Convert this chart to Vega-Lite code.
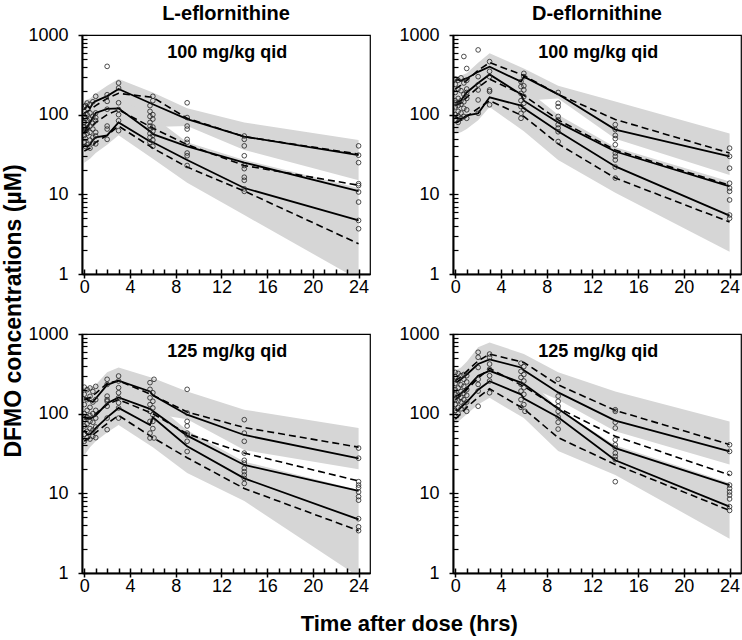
{
"$schema": "https://vega.github.io/schema/vega-lite/v6.json",
"padding": {"left": 2, "right": 0, "top": 4, "bottom": 2},
"config": {"font": "Liberation Sans", "view": {"stroke": "black", "strokeWidth": 1.2}},
"title": {"text": "Time after dose (hrs)", "orient": "bottom", "anchor": "middle", "dx": 37, "offset": 18, "fontSize": 22, "fontWeight": "bold", "font": "Liberation Sans", "color": "black"},
"data": {"values": [
{"drug":"L","dose":100,"kind":"band","series":"upper","time":0,"lo":60,"hi":150},
{"drug":"L","dose":100,"kind":"band","series":"upper","time":0.5,"lo":70,"hi":160},
{"drug":"L","dose":100,"kind":"band","series":"upper","time":1,"lo":80,"hi":185},
{"drug":"L","dose":100,"kind":"band","series":"upper","time":2,"lo":95,"hi":230},
{"drug":"L","dose":100,"kind":"band","series":"upper","time":3,"lo":110,"hi":280},
{"drug":"L","dose":100,"kind":"band","series":"upper","time":6,"lo":70,"hi":190},
{"drug":"L","dose":100,"kind":"band","series":"upper","time":9,"lo":72,"hi":120},
{"drug":"L","dose":100,"kind":"band","series":"upper","time":14,"lo":36,"hi":80},
{"drug":"L","dose":100,"kind":"band","series":"upper","time":24,"lo":15,"hi":48},
{"drug":"L","dose":100,"kind":"band","series":"lower","time":0,"lo":25,"hi":90},
{"drug":"L","dose":100,"kind":"band","series":"lower","time":0.5,"lo":28,"hi":100},
{"drug":"L","dose":100,"kind":"band","series":"lower","time":1,"lo":33,"hi":115},
{"drug":"L","dose":100,"kind":"band","series":"lower","time":2,"lo":42,"hi":140},
{"drug":"L","dose":100,"kind":"band","series":"lower","time":3,"lo":55,"hi":160},
{"drug":"L","dose":100,"kind":"band","series":"lower","time":6,"lo":28,"hi":95},
{"drug":"L","dose":100,"kind":"band","series":"lower","time":9,"lo":14,"hi":45},
{"drug":"L","dose":100,"kind":"band","series":"lower","time":14,"lo":5.5,"hi":27},
{"drug":"L","dose":100,"kind":"band","series":"lower","time":24,"lo":0.85,"hi":12},
{"drug":"D","dose":100,"kind":"band","series":"upper","time":0,"lo":120,"hi":300},
{"drug":"D","dose":100,"kind":"band","series":"upper","time":0.5,"lo":130,"hi":310},
{"drug":"D","dose":100,"kind":"band","series":"upper","time":1,"lo":140,"hi":330},
{"drug":"D","dose":100,"kind":"band","series":"upper","time":2,"lo":180,"hi":450},
{"drug":"D","dose":100,"kind":"band","series":"upper","time":3,"lo":240,"hi":590},
{"drug":"D","dose":100,"kind":"band","series":"upper","time":6,"lo":150,"hi":380},
{"drug":"D","dose":100,"kind":"band","series":"upper","time":9,"lo":160,"hi":230},
{"drug":"D","dose":100,"kind":"band","series":"upper","time":14,"lo":50,"hi":146},
{"drug":"D","dose":100,"kind":"band","series":"upper","time":24,"lo":17.5,"hi":58},
{"drug":"D","dose":100,"kind":"band","series":"lower","time":0,"lo":58,"hi":180},
{"drug":"D","dose":100,"kind":"band","series":"lower","time":0.5,"lo":60,"hi":190},
{"drug":"D","dose":100,"kind":"band","series":"lower","time":1,"lo":66,"hi":200},
{"drug":"D","dose":100,"kind":"band","series":"lower","time":2,"lo":85,"hi":260},
{"drug":"D","dose":100,"kind":"band","series":"lower","time":3,"lo":125,"hi":330},
{"drug":"D","dose":100,"kind":"band","series":"lower","time":6,"lo":62,"hi":220},
{"drug":"D","dose":100,"kind":"band","series":"lower","time":9,"lo":27,"hi":100},
{"drug":"D","dose":100,"kind":"band","series":"lower","time":14,"lo":10.5,"hi":39},
{"drug":"D","dose":100,"kind":"band","series":"lower","time":24,"lo":1.9,"hi":14.5},
{"drug":"L","dose":125,"kind":"band","series":"upper","time":0,"lo":80,"hi":220},
{"drug":"L","dose":125,"kind":"band","series":"upper","time":0.5,"lo":85,"hi":215},
{"drug":"L","dose":125,"kind":"band","series":"upper","time":1,"lo":95,"hi":230},
{"drug":"L","dose":125,"kind":"band","series":"upper","time":2,"lo":120,"hi":330},
{"drug":"L","dose":125,"kind":"band","series":"upper","time":3,"lo":140,"hi":380},
{"drug":"L","dose":125,"kind":"band","series":"upper","time":6,"lo":100,"hi":280},
{"drug":"L","dose":125,"kind":"band","series":"upper","time":9,"lo":85,"hi":190},
{"drug":"L","dose":125,"kind":"band","series":"upper","time":14,"lo":35,"hi":112},
{"drug":"L","dose":125,"kind":"band","series":"upper","time":24,"lo":20,"hi":66},
{"drug":"L","dose":125,"kind":"band","series":"lower","time":0,"lo":30,"hi":120},
{"drug":"L","dose":125,"kind":"band","series":"lower","time":0.5,"lo":38,"hi":125},
{"drug":"L","dose":125,"kind":"band","series":"lower","time":1,"lo":45,"hi":135},
{"drug":"L","dose":125,"kind":"band","series":"lower","time":2,"lo":58,"hi":170},
{"drug":"L","dose":125,"kind":"band","series":"lower","time":3,"lo":72,"hi":200},
{"drug":"L","dose":125,"kind":"band","series":"lower","time":6,"lo":38,"hi":140},
{"drug":"L","dose":125,"kind":"band","series":"lower","time":9,"lo":18,"hi":62},
{"drug":"L","dose":125,"kind":"band","series":"lower","time":14,"lo":8,"hi":25},
{"drug":"L","dose":125,"kind":"band","series":"lower","time":24,"lo":0.9,"hi":11},
{"drug":"D","dose":125,"kind":"band","series":"upper","time":0,"lo":150,"hi":350},
{"drug":"D","dose":125,"kind":"band","series":"upper","time":0.5,"lo":165,"hi":380},
{"drug":"D","dose":125,"kind":"band","series":"upper","time":1,"lo":190,"hi":450},
{"drug":"D","dose":125,"kind":"band","series":"upper","time":2,"lo":270,"hi":680},
{"drug":"D","dose":125,"kind":"band","series":"upper","time":3,"lo":330,"hi":785},
{"drug":"D","dose":125,"kind":"band","series":"upper","time":6,"lo":230,"hi":560},
{"drug":"D","dose":125,"kind":"band","series":"upper","time":9,"lo":150,"hi":330},
{"drug":"D","dose":125,"kind":"band","series":"upper","time":14,"lo":60,"hi":190},
{"drug":"D","dose":125,"kind":"band","series":"upper","time":24,"lo":23,"hi":80},
{"drug":"D","dose":125,"kind":"band","series":"lower","time":0,"lo":73,"hi":220},
{"drug":"D","dose":125,"kind":"band","series":"lower","time":0.5,"lo":85,"hi":240},
{"drug":"D","dose":125,"kind":"band","series":"lower","time":1,"lo":98,"hi":270},
{"drug":"D","dose":125,"kind":"band","series":"lower","time":2,"lo":130,"hi":380},
{"drug":"D","dose":125,"kind":"band","series":"lower","time":3,"lo":158,"hi":450},
{"drug":"D","dose":125,"kind":"band","series":"lower","time":6,"lo":88,"hi":320},
{"drug":"D","dose":125,"kind":"band","series":"lower","time":9,"lo":34,"hi":115},
{"drug":"D","dose":125,"kind":"band","series":"lower","time":14,"lo":17,"hi":40},
{"drug":"D","dose":125,"kind":"band","series":"lower","time":24,"lo":2.7,"hi":13.5},

{"drug":"L","dose":100,"kind":"obsline","series":"p95","time":0,"conc":115},
{"drug":"L","dose":100,"kind":"obsline","series":"p95","time":0.25,"conc":130},
{"drug":"L","dose":100,"kind":"obsline","series":"p95","time":0.5,"conc":120},
{"drug":"L","dose":100,"kind":"obsline","series":"p95","time":0.75,"conc":140},
{"drug":"L","dose":100,"kind":"obsline","series":"p95","time":1,"conc":148},
{"drug":"L","dose":100,"kind":"obsline","series":"p95","time":2,"conc":171},
{"drug":"L","dose":100,"kind":"obsline","series":"p95","time":3,"conc":210},
{"drug":"L","dose":100,"kind":"obsline","series":"p95","time":5.75,"conc":140},
{"drug":"L","dose":100,"kind":"obsline","series":"p95","time":6,"conc":135},
{"drug":"L","dose":100,"kind":"obsline","series":"p95","time":9,"conc":88},
{"drug":"L","dose":100,"kind":"obsline","series":"p95","time":14,"conc":53},
{"drug":"L","dose":100,"kind":"obsline","series":"p95","time":24,"conc":31},
{"drug":"L","dose":100,"kind":"obsline","series":"p50","time":0,"conc":60},
{"drug":"L","dose":100,"kind":"obsline","series":"p50","time":0.25,"conc":70},
{"drug":"L","dose":100,"kind":"obsline","series":"p50","time":0.5,"conc":80},
{"drug":"L","dose":100,"kind":"obsline","series":"p50","time":0.75,"conc":92},
{"drug":"L","dose":100,"kind":"obsline","series":"p50","time":1,"conc":105},
{"drug":"L","dose":100,"kind":"obsline","series":"p50","time":2,"conc":118},
{"drug":"L","dose":100,"kind":"obsline","series":"p50","time":3,"conc":120},
{"drug":"L","dose":100,"kind":"obsline","series":"p50","time":5.75,"conc":62},
{"drug":"L","dose":100,"kind":"obsline","series":"p50","time":6,"conc":57},
{"drug":"L","dose":100,"kind":"obsline","series":"p50","time":9,"conc":40},
{"drug":"L","dose":100,"kind":"obsline","series":"p50","time":14,"conc":25},
{"drug":"L","dose":100,"kind":"obsline","series":"p50","time":24,"conc":11},
{"drug":"L","dose":100,"kind":"obsline","series":"p5","time":0,"conc":41},
{"drug":"L","dose":100,"kind":"obsline","series":"p5","time":0.25,"conc":40},
{"drug":"L","dose":100,"kind":"obsline","series":"p5","time":0.5,"conc":42},
{"drug":"L","dose":100,"kind":"obsline","series":"p5","time":0.75,"conc":48},
{"drug":"L","dose":100,"kind":"obsline","series":"p5","time":1,"conc":52},
{"drug":"L","dose":100,"kind":"obsline","series":"p5","time":2,"conc":55},
{"drug":"L","dose":100,"kind":"obsline","series":"p5","time":3,"conc":80},
{"drug":"L","dose":100,"kind":"obsline","series":"p5","time":5.75,"conc":46},
{"drug":"L","dose":100,"kind":"obsline","series":"p5","time":6,"conc":45},
{"drug":"L","dose":100,"kind":"obsline","series":"p5","time":9,"conc":27},
{"drug":"L","dose":100,"kind":"obsline","series":"p5","time":14,"conc":12},
{"drug":"L","dose":100,"kind":"obsline","series":"p5","time":24,"conc":4.7},
{"drug":"L","dose":100,"kind":"predline","series":"p95","time":0,"conc":105},
{"drug":"L","dose":100,"kind":"predline","series":"p95","time":0.5,"conc":115},
{"drug":"L","dose":100,"kind":"predline","series":"p95","time":1,"conc":130},
{"drug":"L","dose":100,"kind":"predline","series":"p95","time":2,"conc":160},
{"drug":"L","dose":100,"kind":"predline","series":"p95","time":3,"conc":185},
{"drug":"L","dose":100,"kind":"predline","series":"p95","time":6,"conc":165},
{"drug":"L","dose":100,"kind":"predline","series":"p95","time":9,"conc":90},
{"drug":"L","dose":100,"kind":"predline","series":"p95","time":14,"conc":53},
{"drug":"L","dose":100,"kind":"predline","series":"p95","time":24,"conc":32},
{"drug":"L","dose":100,"kind":"predline","series":"p50","time":0,"conc":60},
{"drug":"L","dose":100,"kind":"predline","series":"p50","time":0.5,"conc":68},
{"drug":"L","dose":100,"kind":"predline","series":"p50","time":1,"conc":80},
{"drug":"L","dose":100,"kind":"predline","series":"p50","time":2,"conc":100},
{"drug":"L","dose":100,"kind":"predline","series":"p50","time":3,"conc":115},
{"drug":"L","dose":100,"kind":"predline","series":"p50","time":6,"conc":68},
{"drug":"L","dose":100,"kind":"predline","series":"p50","time":9,"conc":42},
{"drug":"L","dose":100,"kind":"predline","series":"p50","time":14,"conc":23},
{"drug":"L","dose":100,"kind":"predline","series":"p50","time":24,"conc":13},
{"drug":"L","dose":100,"kind":"predline","series":"p5","time":0,"conc":35},
{"drug":"L","dose":100,"kind":"predline","series":"p5","time":0.5,"conc":38},
{"drug":"L","dose":100,"kind":"predline","series":"p5","time":1,"conc":45},
{"drug":"L","dose":100,"kind":"predline","series":"p5","time":2,"conc":55},
{"drug":"L","dose":100,"kind":"predline","series":"p5","time":3,"conc":72},
{"drug":"L","dose":100,"kind":"predline","series":"p5","time":6,"conc":38},
{"drug":"L","dose":100,"kind":"predline","series":"p5","time":9,"conc":22},
{"drug":"L","dose":100,"kind":"predline","series":"p5","time":14,"conc":11},
{"drug":"L","dose":100,"kind":"predline","series":"p5","time":24,"conc":2.4},

{"drug":"D","dose":100,"kind":"obsline","series":"p95","time":0,"conc":270},
{"drug":"D","dose":100,"kind":"obsline","series":"p95","time":0.25,"conc":275},
{"drug":"D","dose":100,"kind":"obsline","series":"p95","time":0.5,"conc":265},
{"drug":"D","dose":100,"kind":"obsline","series":"p95","time":0.75,"conc":280},
{"drug":"D","dose":100,"kind":"obsline","series":"p95","time":1,"conc":285},
{"drug":"D","dose":100,"kind":"obsline","series":"p95","time":2,"conc":345},
{"drug":"D","dose":100,"kind":"obsline","series":"p95","time":3,"conc":400},
{"drug":"D","dose":100,"kind":"obsline","series":"p95","time":5.75,"conc":260},
{"drug":"D","dose":100,"kind":"obsline","series":"p95","time":6,"conc":300},
{"drug":"D","dose":100,"kind":"obsline","series":"p95","time":9,"conc":180},
{"drug":"D","dose":100,"kind":"obsline","series":"p95","time":14,"conc":65},
{"drug":"D","dose":100,"kind":"obsline","series":"p95","time":24,"conc":30},
{"drug":"D","dose":100,"kind":"obsline","series":"p50","time":0,"conc":140},
{"drug":"D","dose":100,"kind":"obsline","series":"p50","time":0.25,"conc":145},
{"drug":"D","dose":100,"kind":"obsline","series":"p50","time":0.5,"conc":150},
{"drug":"D","dose":100,"kind":"obsline","series":"p50","time":0.75,"conc":170},
{"drug":"D","dose":100,"kind":"obsline","series":"p50","time":1,"conc":190},
{"drug":"D","dose":100,"kind":"obsline","series":"p50","time":2,"conc":250},
{"drug":"D","dose":100,"kind":"obsline","series":"p50","time":3,"conc":320},
{"drug":"D","dose":100,"kind":"obsline","series":"p50","time":5.75,"conc":180},
{"drug":"D","dose":100,"kind":"obsline","series":"p50","time":6,"conc":150},
{"drug":"D","dose":100,"kind":"obsline","series":"p50","time":9,"conc":80},
{"drug":"D","dose":100,"kind":"obsline","series":"p50","time":14,"conc":34.5},
{"drug":"D","dose":100,"kind":"obsline","series":"p50","time":24,"conc":12.6},
{"drug":"D","dose":100,"kind":"obsline","series":"p5","time":0,"conc":95},
{"drug":"D","dose":100,"kind":"obsline","series":"p5","time":0.25,"conc":90},
{"drug":"D","dose":100,"kind":"obsline","series":"p5","time":0.5,"conc":88},
{"drug":"D","dose":100,"kind":"obsline","series":"p5","time":0.75,"conc":92},
{"drug":"D","dose":100,"kind":"obsline","series":"p5","time":1,"conc":98},
{"drug":"D","dose":100,"kind":"obsline","series":"p5","time":2,"conc":104},
{"drug":"D","dose":100,"kind":"obsline","series":"p5","time":3,"conc":165},
{"drug":"D","dose":100,"kind":"obsline","series":"p5","time":5.75,"conc":130},
{"drug":"D","dose":100,"kind":"obsline","series":"p5","time":6,"conc":120},
{"drug":"D","dose":100,"kind":"obsline","series":"p5","time":9,"conc":62},
{"drug":"D","dose":100,"kind":"obsline","series":"p5","time":14,"conc":22.4},
{"drug":"D","dose":100,"kind":"obsline","series":"p5","time":24,"conc":5.4},
{"drug":"D","dose":100,"kind":"predline","series":"p95","time":0,"conc":210},
{"drug":"D","dose":100,"kind":"predline","series":"p95","time":0.5,"conc":235},
{"drug":"D","dose":100,"kind":"predline","series":"p95","time":1,"conc":270},
{"drug":"D","dose":100,"kind":"predline","series":"p95","time":2,"conc":360},
{"drug":"D","dose":100,"kind":"predline","series":"p95","time":3,"conc":450},
{"drug":"D","dose":100,"kind":"predline","series":"p95","time":6,"conc":310},
{"drug":"D","dose":100,"kind":"predline","series":"p95","time":9,"conc":180},
{"drug":"D","dose":100,"kind":"predline","series":"p95","time":14,"conc":87},
{"drug":"D","dose":100,"kind":"predline","series":"p95","time":24,"conc":33},
{"drug":"D","dose":100,"kind":"predline","series":"p50","time":0,"conc":130},
{"drug":"D","dose":100,"kind":"predline","series":"p50","time":0.5,"conc":140},
{"drug":"D","dose":100,"kind":"predline","series":"p50","time":1,"conc":165},
{"drug":"D","dose":100,"kind":"predline","series":"p50","time":2,"conc":220},
{"drug":"D","dose":100,"kind":"predline","series":"p50","time":3,"conc":280},
{"drug":"D","dose":100,"kind":"predline","series":"p50","time":6,"conc":175},
{"drug":"D","dose":100,"kind":"predline","series":"p50","time":9,"conc":86},
{"drug":"D","dose":100,"kind":"predline","series":"p50","time":14,"conc":36},
{"drug":"D","dose":100,"kind":"predline","series":"p50","time":24,"conc":13},
{"drug":"D","dose":100,"kind":"predline","series":"p5","time":0,"conc":80},
{"drug":"D","dose":100,"kind":"predline","series":"p5","time":0.5,"conc":85},
{"drug":"D","dose":100,"kind":"predline","series":"p5","time":1,"conc":95},
{"drug":"D","dose":100,"kind":"predline","series":"p5","time":2,"conc":120},
{"drug":"D","dose":100,"kind":"predline","series":"p5","time":3,"conc":150},
{"drug":"D","dose":100,"kind":"predline","series":"p5","time":6,"conc":95},
{"drug":"D","dose":100,"kind":"predline","series":"p5","time":9,"conc":43},
{"drug":"D","dose":100,"kind":"predline","series":"p5","time":14,"conc":16},
{"drug":"D","dose":100,"kind":"predline","series":"p5","time":24,"conc":4.5},

{"drug":"L","dose":125,"kind":"obsline","series":"p95","time":0,"conc":160},
{"drug":"L","dose":125,"kind":"obsline","series":"p95","time":0.25,"conc":150},
{"drug":"L","dose":125,"kind":"obsline","series":"p95","time":0.5,"conc":145},
{"drug":"L","dose":125,"kind":"obsline","series":"p95","time":0.75,"conc":140},
{"drug":"L","dose":125,"kind":"obsline","series":"p95","time":1,"conc":155},
{"drug":"L","dose":125,"kind":"obsline","series":"p95","time":2,"conc":230},
{"drug":"L","dose":125,"kind":"obsline","series":"p95","time":3,"conc":260},
{"drug":"L","dose":125,"kind":"obsline","series":"p95","time":5.75,"conc":190},
{"drug":"L","dose":125,"kind":"obsline","series":"p95","time":6,"conc":170},
{"drug":"L","dose":125,"kind":"obsline","series":"p95","time":9,"conc":97},
{"drug":"L","dose":125,"kind":"obsline","series":"p95","time":14,"conc":54},
{"drug":"L","dose":125,"kind":"obsline","series":"p95","time":24,"conc":27.5},
{"drug":"L","dose":125,"kind":"obsline","series":"p50","time":0,"conc":92},
{"drug":"L","dose":125,"kind":"obsline","series":"p50","time":0.25,"conc":88},
{"drug":"L","dose":125,"kind":"obsline","series":"p50","time":0.5,"conc":86},
{"drug":"L","dose":125,"kind":"obsline","series":"p50","time":0.75,"conc":90},
{"drug":"L","dose":125,"kind":"obsline","series":"p50","time":1,"conc":95},
{"drug":"L","dose":125,"kind":"obsline","series":"p50","time":2,"conc":135},
{"drug":"L","dose":125,"kind":"obsline","series":"p50","time":3,"conc":160},
{"drug":"L","dose":125,"kind":"obsline","series":"p50","time":5.75,"conc":115},
{"drug":"L","dose":125,"kind":"obsline","series":"p50","time":6,"conc":108},
{"drug":"L","dose":125,"kind":"obsline","series":"p50","time":9,"conc":53},
{"drug":"L","dose":125,"kind":"obsline","series":"p50","time":14,"conc":22.7},
{"drug":"L","dose":125,"kind":"obsline","series":"p50","time":24,"conc":10.7},
{"drug":"L","dose":125,"kind":"obsline","series":"p5","time":0,"conc":62},
{"drug":"L","dose":125,"kind":"obsline","series":"p5","time":0.25,"conc":55},
{"drug":"L","dose":125,"kind":"obsline","series":"p5","time":0.5,"conc":55},
{"drug":"L","dose":125,"kind":"obsline","series":"p5","time":0.75,"conc":60},
{"drug":"L","dose":125,"kind":"obsline","series":"p5","time":1,"conc":66},
{"drug":"L","dose":125,"kind":"obsline","series":"p5","time":2,"conc":90},
{"drug":"L","dose":125,"kind":"obsline","series":"p5","time":3,"conc":118},
{"drug":"L","dose":125,"kind":"obsline","series":"p5","time":5.75,"conc":72},
{"drug":"L","dose":125,"kind":"obsline","series":"p5","time":6,"conc":90},
{"drug":"L","dose":125,"kind":"obsline","series":"p5","time":9,"conc":39},
{"drug":"L","dose":125,"kind":"obsline","series":"p5","time":14,"conc":15.4},
{"drug":"L","dose":125,"kind":"obsline","series":"p5","time":24,"conc":4.7},
{"drug":"L","dose":125,"kind":"predline","series":"p95","time":0,"conc":150},
{"drug":"L","dose":125,"kind":"predline","series":"p95","time":0.5,"conc":160},
{"drug":"L","dose":125,"kind":"predline","series":"p95","time":1,"conc":180},
{"drug":"L","dose":125,"kind":"predline","series":"p95","time":2,"conc":240},
{"drug":"L","dose":125,"kind":"predline","series":"p95","time":3,"conc":260},
{"drug":"L","dose":125,"kind":"predline","series":"p95","time":6,"conc":170},
{"drug":"L","dose":125,"kind":"predline","series":"p95","time":9,"conc":105},
{"drug":"L","dose":125,"kind":"predline","series":"p95","time":14,"conc":67},
{"drug":"L","dose":125,"kind":"predline","series":"p95","time":24,"conc":38},
{"drug":"L","dose":125,"kind":"predline","series":"p50","time":0,"conc":85},
{"drug":"L","dose":125,"kind":"predline","series":"p50","time":0.5,"conc":90},
{"drug":"L","dose":125,"kind":"predline","series":"p50","time":1,"conc":100},
{"drug":"L","dose":125,"kind":"predline","series":"p50","time":2,"conc":130},
{"drug":"L","dose":125,"kind":"predline","series":"p50","time":3,"conc":150},
{"drug":"L","dose":125,"kind":"predline","series":"p50","time":6,"conc":100},
{"drug":"L","dose":125,"kind":"predline","series":"p50","time":9,"conc":56},
{"drug":"L","dose":125,"kind":"predline","series":"p50","time":14,"conc":32},
{"drug":"L","dose":125,"kind":"predline","series":"p50","time":24,"conc":14.3},
{"drug":"L","dose":125,"kind":"predline","series":"p5","time":0,"conc":45},
{"drug":"L","dose":125,"kind":"predline","series":"p5","time":0.5,"conc":50},
{"drug":"L","dose":125,"kind":"predline","series":"p5","time":1,"conc":58},
{"drug":"L","dose":125,"kind":"predline","series":"p5","time":2,"conc":75},
{"drug":"L","dose":125,"kind":"predline","series":"p5","time":3,"conc":95},
{"drug":"L","dose":125,"kind":"predline","series":"p5","time":6,"conc":50},
{"drug":"L","dose":125,"kind":"predline","series":"p5","time":9,"conc":28},
{"drug":"L","dose":125,"kind":"predline","series":"p5","time":14,"conc":11.5},
{"drug":"L","dose":125,"kind":"predline","series":"p5","time":24,"conc":3.4},

{"drug":"D","dose":125,"kind":"obsline","series":"p95","time":0,"conc":250},
{"drug":"D","dose":125,"kind":"obsline","series":"p95","time":0.25,"conc":255},
{"drug":"D","dose":125,"kind":"obsline","series":"p95","time":0.5,"conc":270},
{"drug":"D","dose":125,"kind":"obsline","series":"p95","time":0.75,"conc":290},
{"drug":"D","dose":125,"kind":"obsline","series":"p95","time":1,"conc":310},
{"drug":"D","dose":125,"kind":"obsline","series":"p95","time":2,"conc":420},
{"drug":"D","dose":125,"kind":"obsline","series":"p95","time":3,"conc":480},
{"drug":"D","dose":125,"kind":"obsline","series":"p95","time":5.75,"conc":380},
{"drug":"D","dose":125,"kind":"obsline","series":"p95","time":6,"conc":350},
{"drug":"D","dose":125,"kind":"obsline","series":"p95","time":9,"conc":185},
{"drug":"D","dose":125,"kind":"obsline","series":"p95","time":14,"conc":82},
{"drug":"D","dose":125,"kind":"obsline","series":"p95","time":24,"conc":33.6},
{"drug":"D","dose":125,"kind":"obsline","series":"p50","time":0,"conc":165},
{"drug":"D","dose":125,"kind":"obsline","series":"p50","time":0.25,"conc":170},
{"drug":"D","dose":125,"kind":"obsline","series":"p50","time":0.5,"conc":180},
{"drug":"D","dose":125,"kind":"obsline","series":"p50","time":0.75,"conc":195},
{"drug":"D","dose":125,"kind":"obsline","series":"p50","time":1,"conc":210},
{"drug":"D","dose":125,"kind":"obsline","series":"p50","time":2,"conc":300},
{"drug":"D","dose":125,"kind":"obsline","series":"p50","time":3,"conc":345},
{"drug":"D","dose":125,"kind":"obsline","series":"p50","time":5.75,"conc":245},
{"drug":"D","dose":125,"kind":"obsline","series":"p50","time":6,"conc":235},
{"drug":"D","dose":125,"kind":"obsline","series":"p50","time":9,"conc":115},
{"drug":"D","dose":125,"kind":"obsline","series":"p50","time":14,"conc":37},
{"drug":"D","dose":125,"kind":"obsline","series":"p50","time":24,"conc":12.7},
{"drug":"D","dose":125,"kind":"obsline","series":"p5","time":0,"conc":112},
{"drug":"D","dose":125,"kind":"obsline","series":"p5","time":0.25,"conc":110},
{"drug":"D","dose":125,"kind":"obsline","series":"p5","time":0.5,"conc":120},
{"drug":"D","dose":125,"kind":"obsline","series":"p5","time":0.75,"conc":130},
{"drug":"D","dose":125,"kind":"obsline","series":"p5","time":1,"conc":140},
{"drug":"D","dose":125,"kind":"obsline","series":"p5","time":2,"conc":200},
{"drug":"D","dose":125,"kind":"obsline","series":"p5","time":3,"conc":255},
{"drug":"D","dose":125,"kind":"obsline","series":"p5","time":5.75,"conc":175},
{"drug":"D","dose":125,"kind":"obsline","series":"p5","time":6,"conc":155},
{"drug":"D","dose":125,"kind":"obsline","series":"p5","time":9,"conc":90},
{"drug":"D","dose":125,"kind":"obsline","series":"p5","time":14,"conc":26},
{"drug":"D","dose":125,"kind":"obsline","series":"p5","time":24,"conc":6.8},
{"drug":"D","dose":125,"kind":"predline","series":"p95","time":0,"conc":260},
{"drug":"D","dose":125,"kind":"predline","series":"p95","time":0.5,"conc":290},
{"drug":"D","dose":125,"kind":"predline","series":"p95","time":1,"conc":340},
{"drug":"D","dose":125,"kind":"predline","series":"p95","time":2,"conc":460},
{"drug":"D","dose":125,"kind":"predline","series":"p95","time":3,"conc":560},
{"drug":"D","dose":125,"kind":"predline","series":"p95","time":6,"conc":440},
{"drug":"D","dose":125,"kind":"predline","series":"p95","time":9,"conc":230},
{"drug":"D","dose":125,"kind":"predline","series":"p95","time":14,"conc":110},
{"drug":"D","dose":125,"kind":"predline","series":"p95","time":24,"conc":41},
{"drug":"D","dose":125,"kind":"predline","series":"p50","time":0,"conc":150},
{"drug":"D","dose":125,"kind":"predline","series":"p50","time":0.5,"conc":170},
{"drug":"D","dose":125,"kind":"predline","series":"p50","time":1,"conc":200},
{"drug":"D","dose":125,"kind":"predline","series":"p50","time":2,"conc":280},
{"drug":"D","dose":125,"kind":"predline","series":"p50","time":3,"conc":370},
{"drug":"D","dose":125,"kind":"predline","series":"p50","time":6,"conc":220},
{"drug":"D","dose":125,"kind":"predline","series":"p50","time":9,"conc":118},
{"drug":"D","dose":125,"kind":"predline","series":"p50","time":14,"conc":52},
{"drug":"D","dose":125,"kind":"predline","series":"p50","time":24,"conc":17},
{"drug":"D","dose":125,"kind":"predline","series":"p5","time":0,"conc":85},
{"drug":"D","dose":125,"kind":"predline","series":"p5","time":0.5,"conc":100},
{"drug":"D","dose":125,"kind":"predline","series":"p5","time":1,"conc":120},
{"drug":"D","dose":125,"kind":"predline","series":"p5","time":2,"conc":160},
{"drug":"D","dose":125,"kind":"predline","series":"p5","time":3,"conc":205},
{"drug":"D","dose":125,"kind":"predline","series":"p5","time":6,"conc":115},
{"drug":"D","dose":125,"kind":"predline","series":"p5","time":9,"conc":50},
{"drug":"D","dose":125,"kind":"predline","series":"p5","time":14,"conc":23},
{"drug":"D","dose":125,"kind":"predline","series":"p5","time":24,"conc":6.1},

{"drug":"L","dose":100,"kind":"obs","time":0,"conc":45},{"drug":"L","dose":100,"kind":"obs","time":0,"conc":55},{"drug":"L","dose":100,"kind":"obs","time":0,"conc":62},{"drug":"L","dose":100,"kind":"obs","time":0,"conc":70},{"drug":"L","dose":100,"kind":"obs","time":0,"conc":80},{"drug":"L","dose":100,"kind":"obs","time":0,"conc":95},{"drug":"L","dose":100,"kind":"obs","time":0,"conc":110},{"drug":"L","dose":100,"kind":"obs","time":0,"conc":125},
{"drug":"L","dose":100,"kind":"obs","time":0.1,"conc":40},{"drug":"L","dose":100,"kind":"obs","time":0.1,"conc":50},{"drug":"L","dose":100,"kind":"obs","time":0.1,"conc":65},{"drug":"L","dose":100,"kind":"obs","time":0.1,"conc":90},{"drug":"L","dose":100,"kind":"obs","time":0.1,"conc":130},
{"drug":"L","dose":100,"kind":"obs","time":0.25,"conc":42},{"drug":"L","dose":100,"kind":"obs","time":0.25,"conc":58},{"drug":"L","dose":100,"kind":"obs","time":0.25,"conc":68},{"drug":"L","dose":100,"kind":"obs","time":0.25,"conc":75},{"drug":"L","dose":100,"kind":"obs","time":0.25,"conc":85},{"drug":"L","dose":100,"kind":"obs","time":0.25,"conc":100},{"drug":"L","dose":100,"kind":"obs","time":0.25,"conc":140},
{"drug":"L","dose":100,"kind":"obs","time":0.5,"conc":38},{"drug":"L","dose":100,"kind":"obs","time":0.5,"conc":48},{"drug":"L","dose":100,"kind":"obs","time":0.5,"conc":60},{"drug":"L","dose":100,"kind":"obs","time":0.5,"conc":72},{"drug":"L","dose":100,"kind":"obs","time":0.5,"conc":88},{"drug":"L","dose":100,"kind":"obs","time":0.5,"conc":105},{"drug":"L","dose":100,"kind":"obs","time":0.5,"conc":135},
{"drug":"L","dose":100,"kind":"obs","time":0.75,"conc":44},{"drug":"L","dose":100,"kind":"obs","time":0.75,"conc":52},{"drug":"L","dose":100,"kind":"obs","time":0.75,"conc":66},{"drug":"L","dose":100,"kind":"obs","time":0.75,"conc":78},{"drug":"L","dose":100,"kind":"obs","time":0.75,"conc":95},{"drug":"L","dose":100,"kind":"obs","time":0.75,"conc":145},
{"drug":"L","dose":100,"kind":"obs","time":1,"conc":43},{"drug":"L","dose":100,"kind":"obs","time":1,"conc":54},{"drug":"L","dose":100,"kind":"obs","time":1,"conc":60},{"drug":"L","dose":100,"kind":"obs","time":1,"conc":84},{"drug":"L","dose":100,"kind":"obs","time":1,"conc":92},{"drug":"L","dose":100,"kind":"obs","time":1,"conc":105},{"drug":"L","dose":100,"kind":"obs","time":1,"conc":170},
{"drug":"L","dose":100,"kind":"obs","time":2,"conc":404},{"drug":"L","dose":100,"kind":"obs","time":2,"conc":178},{"drug":"L","dose":100,"kind":"obs","time":2,"conc":147},{"drug":"L","dose":100,"kind":"obs","time":2,"conc":117},{"drug":"L","dose":100,"kind":"obs","time":2,"conc":72},{"drug":"L","dose":100,"kind":"obs","time":2,"conc":66},{"drug":"L","dose":100,"kind":"obs","time":2,"conc":49},
{"drug":"L","dose":100,"kind":"obs","time":3,"conc":250},{"drug":"L","dose":100,"kind":"obs","time":3,"conc":216},{"drug":"L","dose":100,"kind":"obs","time":3,"conc":141},{"drug":"L","dose":100,"kind":"obs","time":3,"conc":116},{"drug":"L","dose":100,"kind":"obs","time":3,"conc":100},{"drug":"L","dose":100,"kind":"obs","time":3,"conc":84},{"drug":"L","dose":100,"kind":"obs","time":3,"conc":63},
{"drug":"L","dose":100,"kind":"obs","time":5.75,"conc":45},{"drug":"L","dose":100,"kind":"obs","time":5.75,"conc":52},{"drug":"L","dose":100,"kind":"obs","time":5.75,"conc":58},{"drug":"L","dose":100,"kind":"obs","time":5.75,"conc":65},{"drug":"L","dose":100,"kind":"obs","time":5.75,"conc":72},{"drug":"L","dose":100,"kind":"obs","time":5.75,"conc":80},{"drug":"L","dose":100,"kind":"obs","time":5.75,"conc":95},{"drug":"L","dose":100,"kind":"obs","time":5.75,"conc":110},{"drug":"L","dose":100,"kind":"obs","time":5.75,"conc":130},
{"drug":"L","dose":100,"kind":"obs","time":6,"conc":40},{"drug":"L","dose":100,"kind":"obs","time":6,"conc":48},{"drug":"L","dose":100,"kind":"obs","time":6,"conc":55},{"drug":"L","dose":100,"kind":"obs","time":6,"conc":62},{"drug":"L","dose":100,"kind":"obs","time":6,"conc":70},{"drug":"L","dose":100,"kind":"obs","time":6,"conc":88},{"drug":"L","dose":100,"kind":"obs","time":6,"conc":100},{"drug":"L","dose":100,"kind":"obs","time":6,"conc":150},{"drug":"L","dose":100,"kind":"obs","time":6,"conc":170},
{"drug":"L","dose":100,"kind":"obs","time":9,"conc":141},{"drug":"L","dose":100,"kind":"obs","time":9,"conc":92},{"drug":"L","dose":100,"kind":"obs","time":9,"conc":72},{"drug":"L","dose":100,"kind":"obs","time":9,"conc":66},{"drug":"L","dose":100,"kind":"obs","time":9,"conc":49},{"drug":"L","dose":100,"kind":"obs","time":9,"conc":45},{"drug":"L","dose":100,"kind":"obs","time":9,"conc":33},{"drug":"L","dose":100,"kind":"obs","time":9,"conc":30.5},{"drug":"L","dose":100,"kind":"obs","time":9,"conc":23},
{"drug":"L","dose":100,"kind":"obs","time":14,"conc":54},{"drug":"L","dose":100,"kind":"obs","time":14,"conc":49},{"drug":"L","dose":100,"kind":"obs","time":14,"conc":40.6},{"drug":"L","dose":100,"kind":"obs","time":14,"conc":30.5},{"drug":"L","dose":100,"kind":"obs","time":14,"conc":23},{"drug":"L","dose":100,"kind":"obs","time":14,"conc":21},{"drug":"L","dose":100,"kind":"obs","time":14,"conc":16.4},{"drug":"L","dose":100,"kind":"obs","time":14,"conc":15},{"drug":"L","dose":100,"kind":"obs","time":14,"conc":11.7},{"drug":"L","dose":100,"kind":"obs","time":14,"conc":10.9},
{"drug":"L","dose":100,"kind":"obs","time":24,"conc":40.6},{"drug":"L","dose":100,"kind":"obs","time":24,"conc":31},{"drug":"L","dose":100,"kind":"obs","time":24,"conc":25},{"drug":"L","dose":100,"kind":"obs","time":24,"conc":13.6},{"drug":"L","dose":100,"kind":"obs","time":24,"conc":12.9},{"drug":"L","dose":100,"kind":"obs","time":24,"conc":10.7},{"drug":"L","dose":100,"kind":"obs","time":24,"conc":8},{"drug":"L","dose":100,"kind":"obs","time":24,"conc":4.7},{"drug":"L","dose":100,"kind":"obs","time":24,"conc":3.7},

{"drug":"D","dose":100,"kind":"obs","time":0,"conc":85},{"drug":"D","dose":100,"kind":"obs","time":0,"conc":100},{"drug":"D","dose":100,"kind":"obs","time":0,"conc":125},{"drug":"D","dose":100,"kind":"obs","time":0,"conc":140},{"drug":"D","dose":100,"kind":"obs","time":0,"conc":150},{"drug":"D","dose":100,"kind":"obs","time":0,"conc":190},{"drug":"D","dose":100,"kind":"obs","time":0,"conc":240},{"drug":"D","dose":100,"kind":"obs","time":0,"conc":280},
{"drug":"D","dose":100,"kind":"obs","time":0.25,"conc":80},{"drug":"D","dose":100,"kind":"obs","time":0.25,"conc":95},{"drug":"D","dose":100,"kind":"obs","time":0.25,"conc":110},{"drug":"D","dose":100,"kind":"obs","time":0.25,"conc":130},{"drug":"D","dose":100,"kind":"obs","time":0.25,"conc":160},{"drug":"D","dose":100,"kind":"obs","time":0.25,"conc":210},{"drug":"D","dose":100,"kind":"obs","time":0.25,"conc":270},
{"drug":"D","dose":100,"kind":"obs","time":0.5,"conc":90},{"drug":"D","dose":100,"kind":"obs","time":0.5,"conc":105},{"drug":"D","dose":100,"kind":"obs","time":0.5,"conc":135},{"drug":"D","dose":100,"kind":"obs","time":0.5,"conc":150},{"drug":"D","dose":100,"kind":"obs","time":0.5,"conc":200},{"drug":"D","dose":100,"kind":"obs","time":0.5,"conc":290},
{"drug":"D","dose":100,"kind":"obs","time":0.75,"conc":537},{"drug":"D","dose":100,"kind":"obs","time":0.75,"conc":95},{"drug":"D","dose":100,"kind":"obs","time":0.75,"conc":120},{"drug":"D","dose":100,"kind":"obs","time":0.75,"conc":145},{"drug":"D","dose":100,"kind":"obs","time":0.75,"conc":180},{"drug":"D","dose":100,"kind":"obs","time":0.75,"conc":250},
{"drug":"D","dose":100,"kind":"obs","time":1,"conc":380},{"drug":"D","dose":100,"kind":"obs","time":1,"conc":90},{"drug":"D","dose":100,"kind":"obs","time":1,"conc":115},{"drug":"D","dose":100,"kind":"obs","time":1,"conc":160},{"drug":"D","dose":100,"kind":"obs","time":1,"conc":190},{"drug":"D","dose":100,"kind":"obs","time":1,"conc":210},{"drug":"D","dose":100,"kind":"obs","time":1,"conc":270},
{"drug":"D","dose":100,"kind":"obs","time":2,"conc":650},{"drug":"D","dose":100,"kind":"obs","time":2,"conc":300},{"drug":"D","dose":100,"kind":"obs","time":2,"conc":237},{"drug":"D","dose":100,"kind":"obs","time":2,"conc":204},{"drug":"D","dose":100,"kind":"obs","time":2,"conc":153},{"drug":"D","dose":100,"kind":"obs","time":2,"conc":104},
{"drug":"D","dose":100,"kind":"obs","time":3,"conc":463},{"drug":"D","dose":100,"kind":"obs","time":3,"conc":350},{"drug":"D","dose":100,"kind":"obs","time":3,"conc":300},{"drug":"D","dose":100,"kind":"obs","time":3,"conc":204},{"drug":"D","dose":100,"kind":"obs","time":3,"conc":195},{"drug":"D","dose":100,"kind":"obs","time":3,"conc":133},
{"drug":"D","dose":100,"kind":"obs","time":5.75,"conc":90},{"drug":"D","dose":100,"kind":"obs","time":5.75,"conc":104},{"drug":"D","dose":100,"kind":"obs","time":5.75,"conc":126},{"drug":"D","dose":100,"kind":"obs","time":5.75,"conc":150},{"drug":"D","dose":100,"kind":"obs","time":5.75,"conc":185},{"drug":"D","dose":100,"kind":"obs","time":5.75,"conc":225},{"drug":"D","dose":100,"kind":"obs","time":5.75,"conc":260},
{"drug":"D","dose":100,"kind":"obs","time":6,"conc":115},{"drug":"D","dose":100,"kind":"obs","time":6,"conc":139},{"drug":"D","dose":100,"kind":"obs","time":6,"conc":169},{"drug":"D","dose":100,"kind":"obs","time":6,"conc":204},{"drug":"D","dose":100,"kind":"obs","time":6,"conc":230},{"drug":"D","dose":100,"kind":"obs","time":6,"conc":300},{"drug":"D","dose":100,"kind":"obs","time":6,"conc":330},
{"drug":"D","dose":100,"kind":"obs","time":9,"conc":190},{"drug":"D","dose":100,"kind":"obs","time":9,"conc":139},{"drug":"D","dose":100,"kind":"obs","time":9,"conc":126},{"drug":"D","dose":100,"kind":"obs","time":9,"conc":95},{"drug":"D","dose":100,"kind":"obs","time":9,"conc":86},{"drug":"D","dose":100,"kind":"obs","time":9,"conc":75},{"drug":"D","dose":100,"kind":"obs","time":9,"conc":68},{"drug":"D","dose":100,"kind":"obs","time":9,"conc":61},{"drug":"D","dose":100,"kind":"obs","time":9,"conc":46},
{"drug":"D","dose":100,"kind":"obs","time":14,"conc":75},{"drug":"D","dose":100,"kind":"obs","time":14,"conc":65},{"drug":"D","dose":100,"kind":"obs","time":14,"conc":55},{"drug":"D","dose":100,"kind":"obs","time":14,"conc":50},{"drug":"D","dose":100,"kind":"obs","time":14,"conc":42},{"drug":"D","dose":100,"kind":"obs","time":14,"conc":33},{"drug":"D","dose":100,"kind":"obs","time":14,"conc":30},{"drug":"D","dose":100,"kind":"obs","time":14,"conc":27},{"drug":"D","dose":100,"kind":"obs","time":14,"conc":22},{"drug":"D","dose":100,"kind":"obs","time":14,"conc":16},
{"drug":"D","dose":100,"kind":"obs","time":24,"conc":38},{"drug":"D","dose":100,"kind":"obs","time":24,"conc":30},{"drug":"D","dose":100,"kind":"obs","time":24,"conc":21.3},{"drug":"D","dose":100,"kind":"obs","time":24,"conc":13.8},{"drug":"D","dose":100,"kind":"obs","time":24,"conc":12},{"drug":"D","dose":100,"kind":"obs","time":24,"conc":10.9},{"drug":"D","dose":100,"kind":"obs","time":24,"conc":8.5},{"drug":"D","dose":100,"kind":"obs","time":24,"conc":5.5},{"drug":"D","dose":100,"kind":"obs","time":24,"conc":5.0},

{"drug":"L","dose":125,"kind":"obs","time":0,"conc":45},{"drug":"L","dose":125,"kind":"obs","time":0,"conc":55},{"drug":"L","dose":125,"kind":"obs","time":0,"conc":70},{"drug":"L","dose":125,"kind":"obs","time":0,"conc":85},{"drug":"L","dose":125,"kind":"obs","time":0,"conc":100},{"drug":"L","dose":125,"kind":"obs","time":0,"conc":130},{"drug":"L","dose":125,"kind":"obs","time":0,"conc":175},{"drug":"L","dose":125,"kind":"obs","time":0,"conc":215},
{"drug":"L","dose":125,"kind":"obs","time":0.25,"conc":50},{"drug":"L","dose":125,"kind":"obs","time":0.25,"conc":60},{"drug":"L","dose":125,"kind":"obs","time":0.25,"conc":75},{"drug":"L","dose":125,"kind":"obs","time":0.25,"conc":90},{"drug":"L","dose":125,"kind":"obs","time":0.25,"conc":110},{"drug":"L","dose":125,"kind":"obs","time":0.25,"conc":150},{"drug":"L","dose":125,"kind":"obs","time":0.25,"conc":200},
{"drug":"L","dose":125,"kind":"obs","time":0.5,"conc":48},{"drug":"L","dose":125,"kind":"obs","time":0.5,"conc":65},{"drug":"L","dose":125,"kind":"obs","time":0.5,"conc":80},{"drug":"L","dose":125,"kind":"obs","time":0.5,"conc":95},{"drug":"L","dose":125,"kind":"obs","time":0.5,"conc":120},{"drug":"L","dose":125,"kind":"obs","time":0.5,"conc":165},{"drug":"L","dose":125,"kind":"obs","time":0.5,"conc":210},
{"drug":"L","dose":125,"kind":"obs","time":0.75,"conc":52},{"drug":"L","dose":125,"kind":"obs","time":0.75,"conc":62},{"drug":"L","dose":125,"kind":"obs","time":0.75,"conc":78},{"drug":"L","dose":125,"kind":"obs","time":0.75,"conc":100},{"drug":"L","dose":125,"kind":"obs","time":0.75,"conc":140},{"drug":"L","dose":125,"kind":"obs","time":0.75,"conc":190},
{"drug":"L","dose":125,"kind":"obs","time":1,"conc":50},{"drug":"L","dose":125,"kind":"obs","time":1,"conc":68},{"drug":"L","dose":125,"kind":"obs","time":1,"conc":88},{"drug":"L","dose":125,"kind":"obs","time":1,"conc":110},{"drug":"L","dose":125,"kind":"obs","time":1,"conc":150},{"drug":"L","dose":125,"kind":"obs","time":1,"conc":220},
{"drug":"L","dose":125,"kind":"obs","time":2,"conc":270},{"drug":"L","dose":125,"kind":"obs","time":2,"conc":233},{"drug":"L","dose":125,"kind":"obs","time":2,"conc":166},{"drug":"L","dose":125,"kind":"obs","time":2,"conc":150},{"drug":"L","dose":125,"kind":"obs","time":2,"conc":143},{"drug":"L","dose":125,"kind":"obs","time":2,"conc":124},{"drug":"L","dose":125,"kind":"obs","time":2,"conc":88},{"drug":"L","dose":125,"kind":"obs","time":2,"conc":63},
{"drug":"L","dose":125,"kind":"obs","time":3,"conc":297},{"drug":"L","dose":125,"kind":"obs","time":3,"conc":257},{"drug":"L","dose":125,"kind":"obs","time":3,"conc":212},{"drug":"L","dose":125,"kind":"obs","time":3,"conc":183},{"drug":"L","dose":125,"kind":"obs","time":3,"conc":158},{"drug":"L","dose":125,"kind":"obs","time":3,"conc":137},{"drug":"L","dose":125,"kind":"obs","time":3,"conc":118},{"drug":"L","dose":125,"kind":"obs","time":3,"conc":88},
{"drug":"L","dose":125,"kind":"obs","time":5.75,"conc":245},{"drug":"L","dose":125,"kind":"obs","time":5.75,"conc":202},{"drug":"L","dose":125,"kind":"obs","time":5.75,"conc":158},{"drug":"L","dose":125,"kind":"obs","time":5.75,"conc":130},{"drug":"L","dose":125,"kind":"obs","time":5.75,"conc":107},{"drug":"L","dose":125,"kind":"obs","time":5.75,"conc":80},{"drug":"L","dose":125,"kind":"obs","time":5.75,"conc":57},{"drug":"L","dose":125,"kind":"obs","time":5.75,"conc":49.5},
{"drug":"L","dose":125,"kind":"obs","time":6.1,"conc":270},{"drug":"L","dose":125,"kind":"obs","time":6,"conc":183},{"drug":"L","dose":125,"kind":"obs","time":6,"conc":143},{"drug":"L","dose":125,"kind":"obs","time":6,"conc":118},{"drug":"L","dose":125,"kind":"obs","time":6,"conc":97},{"drug":"L","dose":125,"kind":"obs","time":6,"conc":80},{"drug":"L","dose":125,"kind":"obs","time":6,"conc":65},{"drug":"L","dose":125,"kind":"obs","time":6.1,"conc":49.5},
{"drug":"L","dose":125,"kind":"obs","time":9,"conc":202},{"drug":"L","dose":125,"kind":"obs","time":9,"conc":102},{"drug":"L","dose":125,"kind":"obs","time":9,"conc":80},{"drug":"L","dose":125,"kind":"obs","time":9,"conc":70},{"drug":"L","dose":125,"kind":"obs","time":9,"conc":57},{"drug":"L","dose":125,"kind":"obs","time":9,"conc":54},{"drug":"L","dose":125,"kind":"obs","time":9,"conc":45},{"drug":"L","dose":125,"kind":"obs","time":9,"conc":33.5},
{"drug":"L","dose":125,"kind":"obs","time":14,"conc":84},{"drug":"L","dose":125,"kind":"obs","time":14,"conc":57},{"drug":"L","dose":125,"kind":"obs","time":14,"conc":45},{"drug":"L","dose":125,"kind":"obs","time":14,"conc":32},{"drug":"L","dose":125,"kind":"obs","time":14,"conc":26},{"drug":"L","dose":125,"kind":"obs","time":14,"conc":24},{"drug":"L","dose":125,"kind":"obs","time":14,"conc":20.6},{"drug":"L","dose":125,"kind":"obs","time":14,"conc":18.7},{"drug":"L","dose":125,"kind":"obs","time":14,"conc":17},{"drug":"L","dose":125,"kind":"obs","time":14,"conc":15.4},{"drug":"L","dose":125,"kind":"obs","time":14,"conc":13.3},
{"drug":"L","dose":125,"kind":"obs","time":24,"conc":37},{"drug":"L","dose":125,"kind":"obs","time":24,"conc":27.6},{"drug":"L","dose":125,"kind":"obs","time":24,"conc":14},{"drug":"L","dose":125,"kind":"obs","time":24,"conc":12.7},{"drug":"L","dose":125,"kind":"obs","time":24,"conc":11.8},{"drug":"L","dose":125,"kind":"obs","time":24,"conc":10.4},{"drug":"L","dose":125,"kind":"obs","time":24,"conc":9.1},{"drug":"L","dose":125,"kind":"obs","time":24,"conc":8.2},{"drug":"L","dose":125,"kind":"obs","time":24,"conc":4.8},{"drug":"L","dose":125,"kind":"obs","time":24,"conc":3.8},{"drug":"L","dose":125,"kind":"obs","time":24,"conc":3.4},

{"drug":"D","dose":125,"kind":"obs","time":0,"conc":110},{"drug":"D","dose":125,"kind":"obs","time":0,"conc":130},{"drug":"D","dose":125,"kind":"obs","time":0,"conc":150},{"drug":"D","dose":125,"kind":"obs","time":0,"conc":175},{"drug":"D","dose":125,"kind":"obs","time":0,"conc":200},{"drug":"D","dose":125,"kind":"obs","time":0,"conc":240},{"drug":"D","dose":125,"kind":"obs","time":0,"conc":290},{"drug":"D","dose":125,"kind":"obs","time":0,"conc":330},
{"drug":"D","dose":125,"kind":"obs","time":0.25,"conc":100},{"drug":"D","dose":125,"kind":"obs","time":0.25,"conc":120},{"drug":"D","dose":125,"kind":"obs","time":0.25,"conc":145},{"drug":"D","dose":125,"kind":"obs","time":0.25,"conc":170},{"drug":"D","dose":125,"kind":"obs","time":0.25,"conc":210},{"drug":"D","dose":125,"kind":"obs","time":0.25,"conc":260},{"drug":"D","dose":125,"kind":"obs","time":0.25,"conc":320},
{"drug":"D","dose":125,"kind":"obs","time":0.5,"conc":115},{"drug":"D","dose":125,"kind":"obs","time":0.5,"conc":140},{"drug":"D","dose":125,"kind":"obs","time":0.5,"conc":160},{"drug":"D","dose":125,"kind":"obs","time":0.5,"conc":190},{"drug":"D","dose":125,"kind":"obs","time":0.5,"conc":230},{"drug":"D","dose":125,"kind":"obs","time":0.5,"conc":300},
{"drug":"D","dose":125,"kind":"obs","time":0.75,"conc":125},{"drug":"D","dose":125,"kind":"obs","time":0.75,"conc":150},{"drug":"D","dose":125,"kind":"obs","time":0.75,"conc":180},{"drug":"D","dose":125,"kind":"obs","time":0.75,"conc":220},{"drug":"D","dose":125,"kind":"obs","time":0.75,"conc":270},{"drug":"D","dose":125,"kind":"obs","time":0.75,"conc":310},
{"drug":"D","dose":125,"kind":"obs","time":1,"conc":107},{"drug":"D","dose":125,"kind":"obs","time":1,"conc":140},{"drug":"D","dose":125,"kind":"obs","time":1,"conc":170},{"drug":"D","dose":125,"kind":"obs","time":1,"conc":200},{"drug":"D","dose":125,"kind":"obs","time":1,"conc":250},{"drug":"D","dose":125,"kind":"obs","time":1,"conc":300},
{"drug":"D","dose":125,"kind":"obs","time":2,"conc":590},{"drug":"D","dose":125,"kind":"obs","time":2,"conc":510},{"drug":"D","dose":125,"kind":"obs","time":2,"conc":380},{"drug":"D","dose":125,"kind":"obs","time":2,"conc":270},{"drug":"D","dose":125,"kind":"obs","time":2,"conc":233},{"drug":"D","dose":125,"kind":"obs","time":2,"conc":192},{"drug":"D","dose":125,"kind":"obs","time":2,"conc":124},
{"drug":"D","dose":125,"kind":"obs","time":3,"conc":560},{"drug":"D","dose":125,"kind":"obs","time":3,"conc":510},{"drug":"D","dose":125,"kind":"obs","time":3,"conc":420},{"drug":"D","dose":125,"kind":"obs","time":3,"conc":360},{"drug":"D","dose":125,"kind":"obs","time":3,"conc":300},{"drug":"D","dose":125,"kind":"obs","time":3,"conc":257},{"drug":"D","dose":125,"kind":"obs","time":3,"conc":183},
{"drug":"D","dose":125,"kind":"obs","time":5.75,"conc":430},{"drug":"D","dose":125,"kind":"obs","time":5.75,"conc":340},{"drug":"D","dose":125,"kind":"obs","time":5.75,"conc":285},{"drug":"D","dose":125,"kind":"obs","time":5.75,"conc":234},{"drug":"D","dose":125,"kind":"obs","time":5.75,"conc":192},{"drug":"D","dose":125,"kind":"obs","time":5.75,"conc":150},{"drug":"D","dose":125,"kind":"obs","time":5.75,"conc":120},
{"drug":"D","dose":125,"kind":"obs","time":6,"conc":390},{"drug":"D","dose":125,"kind":"obs","time":6,"conc":310},{"drug":"D","dose":125,"kind":"obs","time":6,"conc":257},{"drug":"D","dose":125,"kind":"obs","time":6,"conc":212},{"drug":"D","dose":125,"kind":"obs","time":6,"conc":175},{"drug":"D","dose":125,"kind":"obs","time":6,"conc":130},{"drug":"D","dose":125,"kind":"obs","time":6.1,"conc":107},
{"drug":"D","dose":125,"kind":"obs","time":9,"conc":270},{"drug":"D","dose":125,"kind":"obs","time":9,"conc":166},{"drug":"D","dose":125,"kind":"obs","time":9,"conc":143},{"drug":"D","dose":125,"kind":"obs","time":9,"conc":124},{"drug":"D","dose":125,"kind":"obs","time":9,"conc":107},{"drug":"D","dose":125,"kind":"obs","time":9,"conc":91},{"drug":"D","dose":125,"kind":"obs","time":9,"conc":78},{"drug":"D","dose":125,"kind":"obs","time":9,"conc":64},
{"drug":"D","dose":125,"kind":"obs","time":14,"conc":112},{"drug":"D","dose":125,"kind":"obs","time":14,"conc":107},{"drug":"D","dose":125,"kind":"obs","time":14,"conc":78},{"drug":"D","dose":125,"kind":"obs","time":14,"conc":66},{"drug":"D","dose":125,"kind":"obs","time":14,"conc":47},{"drug":"D","dose":125,"kind":"obs","time":14,"conc":40.6},{"drug":"D","dose":125,"kind":"obs","time":14,"conc":37},{"drug":"D","dose":125,"kind":"obs","time":14,"conc":32},{"drug":"D","dose":125,"kind":"obs","time":14,"conc":29},{"drug":"D","dose":125,"kind":"obs","time":14,"conc":26.5},{"drug":"D","dose":125,"kind":"obs","time":14,"conc":14},
{"drug":"D","dose":125,"kind":"obs","time":24,"conc":40.7},{"drug":"D","dose":125,"kind":"obs","time":24,"conc":33.6},{"drug":"D","dose":125,"kind":"obs","time":24,"conc":17.8},{"drug":"D","dose":125,"kind":"obs","time":24,"conc":12.7},{"drug":"D","dose":125,"kind":"obs","time":24,"conc":11.5},{"drug":"D","dose":125,"kind":"obs","time":24,"conc":10.4},{"drug":"D","dose":125,"kind":"obs","time":24,"conc":9.5},{"drug":"D","dose":125,"kind":"obs","time":24,"conc":8.5},{"drug":"D","dose":125,"kind":"obs","time":24,"conc":6.8},{"drug":"D","dose":125,"kind":"obs","time":24,"conc":6.1}
]},
"facet": {
  "row": {"field": "dose", "type": "ordinal", "header": {"labels": false, "title": "DFMO concentrations (µM)", "titleOrient": "left", "titleFontSize": 23, "titleFontWeight": "bold", "titleFont": "Liberation Sans", "titleColor": "black", "titlePadding": -9}},
  "column": {"field": "drug", "type": "nominal", "sort": ["L", "D"], "header": {"title": null, "labelOrient": "top", "labelExpr": "datum.value == 'L' ? 'L-eflornithine' : 'D-eflornithine'", "labelFontSize": 20, "labelFontWeight": "bold", "labelFont": "Liberation Sans", "labelColor": "black", "labelPadding": 1}}
},
"spacing": {"row": 27, "column": 27},
"resolve": {"axis": {"x": "independent", "y": "independent"}},
"spec": {
  "width": 288,
  "height": 239,
  "resolve": {"axis": {"x": "independent", "y": "independent"}},
  "layer": [
    {
      "transform": [{"filter": "datum.kind == 'band'"}],
      "mark": {"type": "area", "color": "#d6d6d6", "clip": true},
      "encoding": {
        "x": {"field": "time", "type": "quantitative", "scale": {"domain": [-0.2, 25], "nice": false, "zero": false},
              "axis": {"orient": "bottom", "values": [0, 4, 8, 12, 16, 20, 24], "title": null, "grid": false, "tickSize": 4, "tickWidth": 1.5, "tickColor": "black", "domainColor": "black", "domainWidth": 2, "labelFontSize": 18, "labelColor": "black", "labelFont": "Liberation Sans", "labelPadding": 0, "labelFlush": false, "labelOverlap": false, "zindex": 1}},
        "y": {"field": "lo", "type": "quantitative", "scale": {"type": "log", "domain": [1, 1000], "nice": false},
              "axis": {"orient": "left", "values": [1, 10, 100, 1000], "format": "d", "title": null, "grid": false, "tickSize": 4, "tickWidth": 1.5, "tickColor": "black", "domainColor": "black", "domainWidth": 2, "labelFontSize": 18, "labelColor": "black", "labelFont": "Liberation Sans", "labelPadding": 10, "labelFlush": false, "labelOverlap": false, "zindex": 1}},
        "y2": {"field": "hi"},
        "detail": {"field": "series"}
      }
    },
    {
      "transform": [{"filter": "datum.kind == 'predline'"}],
      "mark": {"type": "line", "color": "black", "strokeWidth": 1.6, "strokeDash": [7, 4], "clip": true},
      "encoding": {
        "x": {"field": "time", "type": "quantitative", "axis": null},
        "y": {"field": "conc", "type": "quantitative", "axis": null},
        "detail": {"field": "series"}
      }
    },
    {
      "transform": [{"filter": "datum.kind == 'obsline'"}],
      "mark": {"type": "line", "color": "black", "strokeWidth": 1.8, "clip": true},
      "encoding": {
        "x": {"field": "time", "type": "quantitative", "axis": null},
        "y": {"field": "conc", "type": "quantitative", "axis": null},
        "detail": {"field": "series"}
      }
    },
    {
      "transform": [{"filter": "datum.kind == 'obs'"}],
      "mark": {"type": "point", "shape": "circle", "filled": false, "stroke": "#222", "strokeWidth": 0.8, "size": 22, "opacity": 1, "clip": true},
      "encoding": {
        "x": {"field": "time", "type": "quantitative",
              "axis": {"orient": "bottom", "values": [0,1,2,3,4,5,6,7,8,9,10,11,12,13,14,15,16,17,18,19,20,21,22,23,24], "title": null, "grid": false, "labels": false, "domain": false, "tickSize": -5, "tickWidth": 1.5, "tickColor": "black", "zindex": 1}},
        "y": {"field": "conc", "type": "quantitative",
              "axis": {"orient": "left", "values": [1,2,3,4,5,6,7,8,9,10,20,30,40,50,60,70,80,90,100,200,300,400,500,600,700,800,900,1000], "title": null, "grid": false, "labels": false, "domain": false, "tickSize": -5, "tickWidth": 1.2, "tickColor": "black", "zindex": 1}}
      }
    },
    {
      "transform": [{"aggregate": [{"op": "count", "as": "n"}], "groupby": ["dose"]}, {"calculate": "datum.dose + ' mg/kg qid'", "as": "label"}],
      "mark": {"type": "text", "font": "Liberation Sans", "fontSize": 18, "fontWeight": "bold", "color": "black", "baseline": "middle", "align": "center"},
      "encoding": {
        "x": {"datum": 12.5, "type": "quantitative", "axis": null},
        "y": {"datum": 600, "type": "quantitative", "axis": null},
        "text": {"field": "label"}
      }
    }
  ]
}
}
